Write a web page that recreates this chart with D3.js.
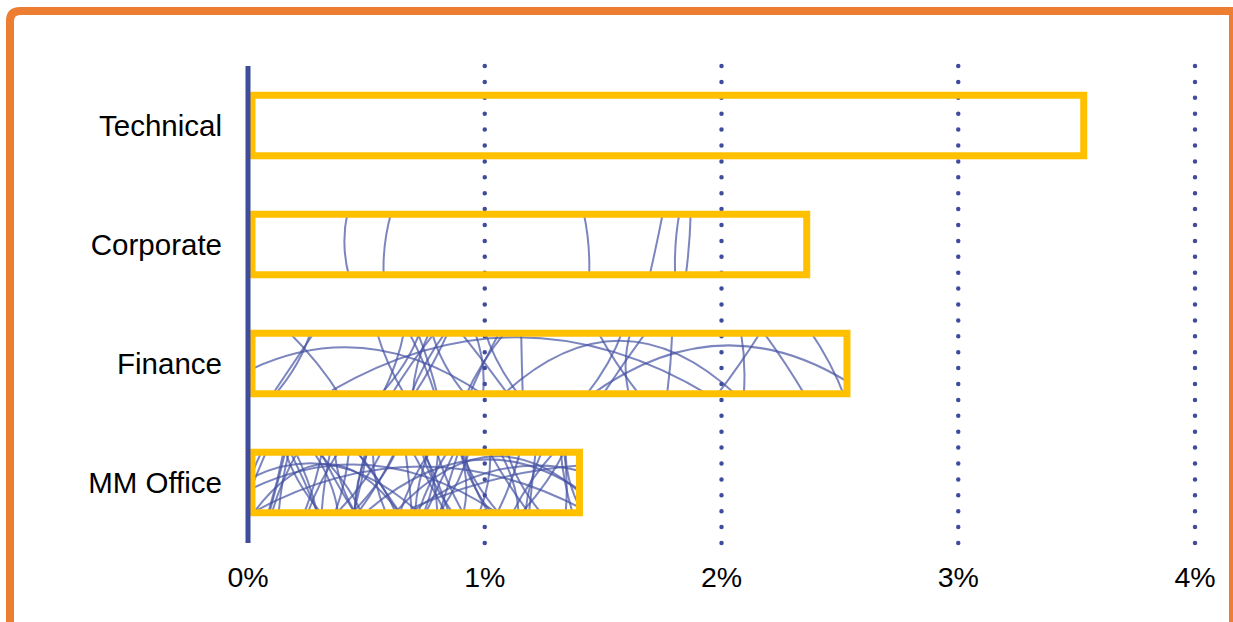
<!DOCTYPE html>
<html>
<head>
<meta charset="utf-8">
<script src="https://cdn.jsdelivr.net/npm/d3@7"></script>
<style>
  html, body { margin: 0; padding: 0; background: #fff; }
  svg { display: block; }
  text { font-family: "Liberation Sans", Arial, sans-serif; fill: #000; }
</style>
</head>
<body>
<svg id="chart" width="1233" height="622"></svg>
<script>
// Share by department (percent)
const categories = ["Technical", "Corporate", "Finance", "MM Office"];
const values = [3.53, 2.36, 2.53, 1.40];
// Hatch density drawn inside each bar (number of strokes)
const hatchCounts = [0, 6, 32, 64];
const tickValues = [0, 1, 2, 3, 4];
const tickLabels = ["0%", "1%", "2%", "3%", "4%"];

const W = 1233, H = 622;
const svg = d3.select("#chart");

const x = d3.scaleLinear().domain([0, 4]).range([248, 1195]);
const y = d3.scaleBand().domain(categories).range([66, 542])
  .paddingInner(0.5).paddingOuter(0.25);

const defs = svg.append("defs");
defs.append("filter").attr("id", "soft")
  .append("feGaussianBlur").attr("stdDeviation", 0.6);

// Outer frame
svg.append("path")
  .attr("d", `M10,${H + 10} V21 Q10,11 20,11 H${W + 10}`)
  .attr("fill", "none").attr("stroke", "#ED7D31").attr("stroke-width", 8);
svg.append("line")
  .attr("x1", 1231).attr("x2", 1231).attr("y1", 11).attr("y2", H)
  .attr("stroke", "#ED7D31").attr("stroke-width", 4);

// Dotted vertical gridlines
svg.append("g").selectAll("line")
  .data(tickValues.slice(1))
  .join("line")
  .attr("x1", d => x(d)).attr("x2", d => x(d))
  .attr("y1", 66).attr("y2", 543)
  .attr("stroke", "#3F4C9C").attr("stroke-width", 4.5)
  .attr("stroke-linecap", "round")
  .attr("stroke-dasharray", "0,15.9");

// Small deterministic generator for the hand-drawn hatch strokes
function lcg(seed) {
  let s = seed >>> 0;
  return () => { s = (s * 1664525 + 1013904223) >>> 0; return s / 4294967296; };
}

const barH = y.bandwidth() + 1;
const bars = svg.append("g");
categories.forEach((c, i) => {
  const x0 = x(0) + 4, x1 = x(values[i]);
  const top = y(c) - 0.5, bot = top + barH;
  const clipId = "clip" + i;
  defs.append("clipPath").attr("id", clipId)
    .append("rect").attr("x", x0).attr("y", top).attr("width", x1 - x0).attr("height", barH);

  const g = bars.append("g").attr("clip-path", `url(#${clipId})`).attr("filter", "url(#soft)");
  const rnd = lcg(29 + i * 131);
  const n = hatchCounts[i];
  for (let k = 0; k < n; k++) {
    const kind = rnd();
    let d;
    if (n < 10 || kind < 0.88) {
      // slanted sweeping stroke
      const sx = x0 + rnd() * (x1 - x0);
      const dx = (rnd() - 0.5) * (n < 10 ? 50 : 130);
      const bend = (rnd() - 0.5) * 30;
      d = `M${sx},${top - 10} Q${sx + dx / 2 + bend},${(top + bot) / 2} ${sx + dx},${bot + 10}`;
    } else {
      // long shallow arc crossing the bar
      const sx = x0 + (rnd() - 0.3) * (x1 - x0);
      const len = 150 + rnd() * 300;
      const sy = bot + 5 - rnd() * 10;
      d = `M${sx},${sy} Q${sx + len / 2},${top - 35 - rnd() * 20} ${sx + len},${bot + 5}`;
    }
    g.append("path").attr("d", d)
      .attr("fill", "none").attr("stroke", "#4451A3")
      .attr("stroke-opacity", 0.7).attr("stroke-width", 2);
  }

  bars.append("rect")
    .attr("x", x0).attr("y", top)
    .attr("width", x1 - x0).attr("height", barH)
    .attr("fill", "none").attr("stroke", "#FFC000").attr("stroke-width", 7);
});

// Category axis line
svg.append("line")
  .attr("x1", x(0)).attr("x2", x(0)).attr("y1", 66).attr("y2", 543)
  .attr("stroke", "#3F4C9C").attr("stroke-width", 5);

// Category labels
svg.append("g").selectAll("text")
  .data(categories)
  .join("text")
  .attr("x", 222)
  .attr("y", d => y(d) + y.bandwidth() / 2)
  .attr("dy", "0.36em")
  .attr("text-anchor", "end")
  .attr("font-size", 29.5)
  .text(d => d);

// Value axis labels
svg.append("g").selectAll("text")
  .data(tickValues)
  .join("text")
  .attr("x", d => x(d))
  .attr("y", 587)
  .attr("text-anchor", "middle")
  .attr("font-size", 28.5)
  .text((d, i) => tickLabels[i]);
</script>
</body>
</html>
